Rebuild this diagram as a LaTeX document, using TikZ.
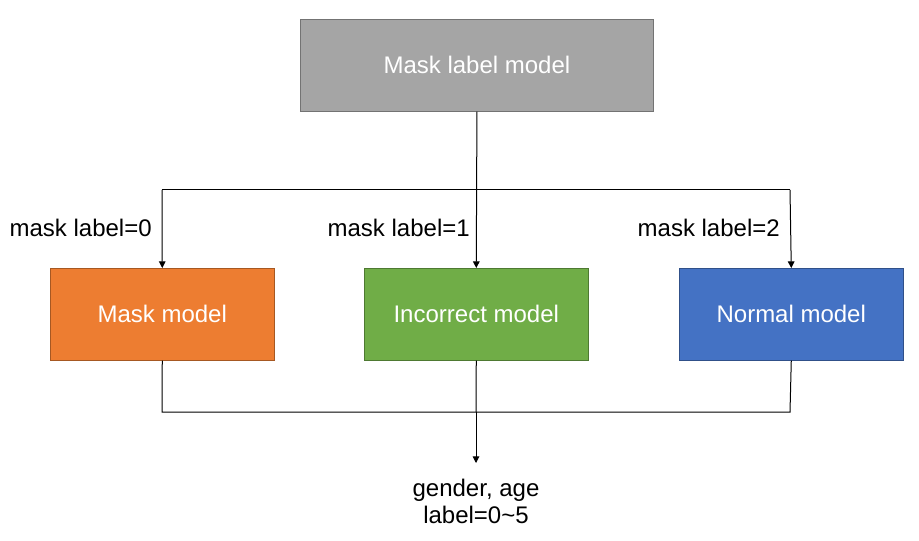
\documentclass[tikz,border=0pt]{standalone}
\usepackage{fontspec}
\setmainfont{Liberation Sans}
\usetikzlibrary{arrows.meta}
\definecolor{cgray}{HTML}{A5A5A5}
\definecolor{corange}{HTML}{ED7D31}
\definecolor{cgreen}{HTML}{70AD47}
\definecolor{cblue}{HTML}{4472C4}
\begin{document}
\begin{tikzpicture}[x=0.75pt,y=-0.75pt,
  box/.style={draw=#1!70!black, fill=#1, minimum width=168pt, minimum height=69pt, inner sep=0pt,
    text=white, font=\fontsize{18}{19.5}\selectfont, anchor=north west},
  lbl/.style={font=\fontsize{18}{20}\selectfont, text=black, inner sep=0pt},
  conn/.style={draw=black, line width=0.75pt},
  arr/.style={conn, -{Triangle[length=5pt,width=5pt]}}]
\useasboundingbox (0,0) rectangle (919,541);
\node[box=cgray, minimum width=265pt] (top) at (300,19) {Mask label model};
\node[box=corange] (mask) at (50,268) {Mask model};
\node[box=cgreen] (inc) at (364,268) {Incorrect model};
\node[box=cblue] (norm) at (679,268) {Normal model};
\coordinate (jl) at (162,190);
\coordinate (jr) at (790,190);
\coordinate (bl) at (162,412);
\coordinate (br) at (790,412);
\coordinate (bm) at (476,412);
\node[lbl, align=center, anchor=north, inner ysep=12pt] (out) at (476,463) {gender, age\\label=0\textasciitilde5};
\node[lbl, anchor=east] (l0) at (152,228) {mask label=0};
\node[lbl, anchor=east] (l1) at (470,228) {mask label=1};
\node[lbl, anchor=east] (l2) at (780,228) {mask label=2};
\draw[arr] (top.south) -- (inc.north);
\draw[conn] (jl) -- (jr);
\draw[arr] (jl) -- (mask.north);
\draw[arr] (jr) -- (norm.north);
\draw[conn] (mask.south) -- (bl) -- (br) -- (norm.south);
\draw[conn] (inc.south) -- (bm);
\draw[arr] (bm) -- (out.north);
\end{tikzpicture}
\end{document}
